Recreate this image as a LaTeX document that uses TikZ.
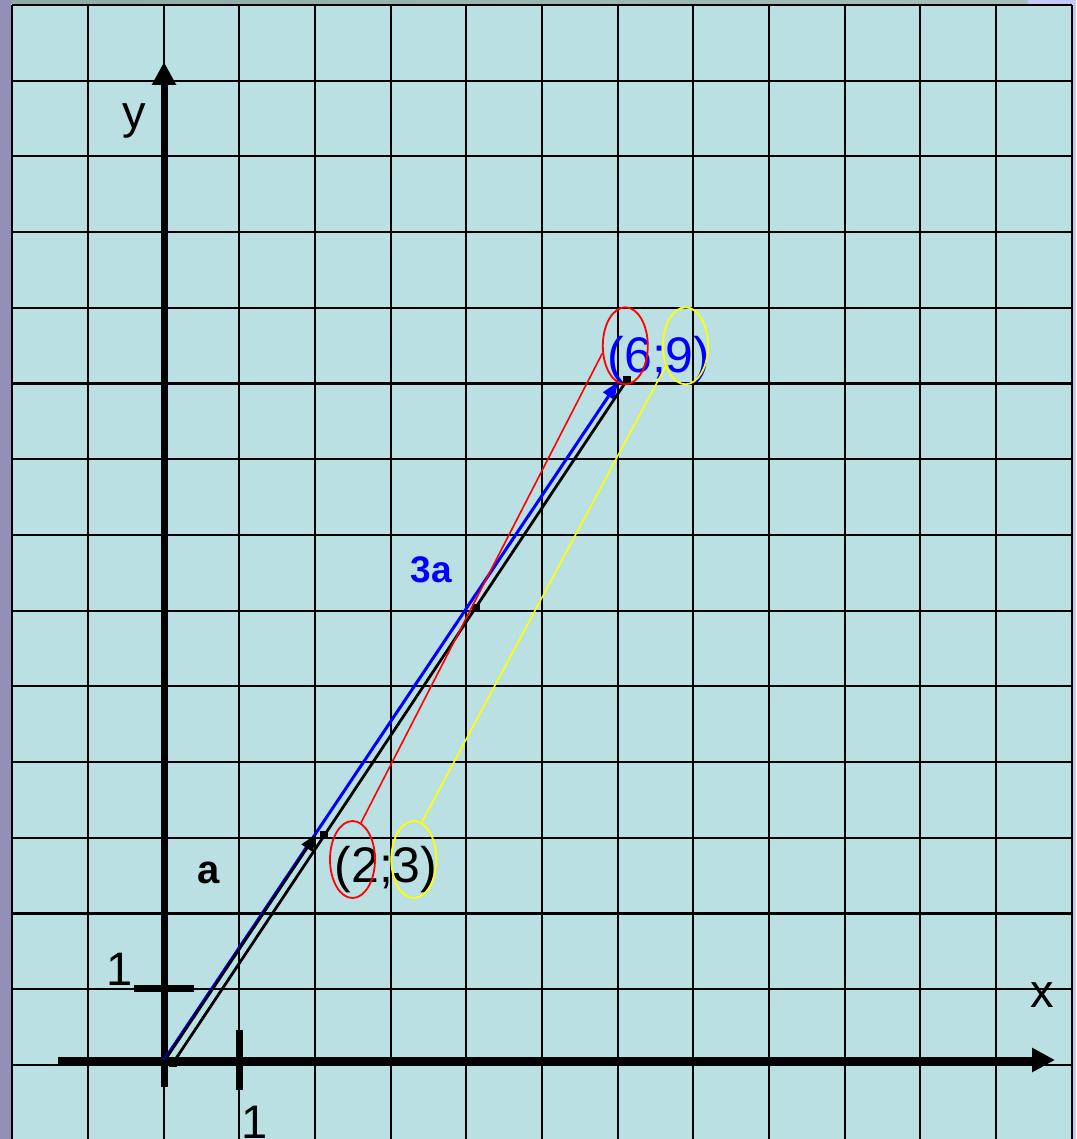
\documentclass[tikz,border=0pt]{standalone}
\usepackage{fontspec}
\setmainfont{Liberation Sans}
\usetikzlibrary{arrows.meta,shapes.geometric}
\definecolor{bg}{HTML}{BBE0E3}
\definecolor{leftc}{HTML}{9290B6}
\definecolor{topA}{HTML}{8EABA7}
\definecolor{topB}{HTML}{A6BFBD}
\definecolor{lav}{HTML}{C8C8F6}
\definecolor{pureblue}{HTML}{0000FF}
\definecolor{purered}{HTML}{FF0000}
\definecolor{pureyellow}{HTML}{FFFF00}
\begin{document}
\begin{tikzpicture}[x=1pt,y=-1pt,
  gridline/.style={line width=2.2pt,black},
  axisline/.style={line width=7pt,black,-{Triangle[length=23pt,width=23pt]}},
  tickline/.style={line width=7pt,black},
  lbl/.style={inner sep=0pt,anchor=base,font=\fontsize{47}{56}\selectfont},
  coord/.style={inner sep=0pt,anchor=base,font=\fontsize{50}{60}\selectfont},
  vlbl/.style={inner sep=0pt,anchor=base,font=\bfseries\fontsize{37}{44}\selectfont},
  ring/.style={ellipse,draw,line width=1.8pt,minimum width=45pt,minimum height=77pt,inner sep=0pt},
  conn/.style={line width=1.6pt},
  marker/.style={rectangle,fill=black,inner sep=0pt,minimum size=8pt}]
\useasboundingbox (0,0) rectangle (1076,1139);
% background
\fill[bg] (0,0) rectangle (1076,1139);
\fill[leftc] (0,0) rectangle (11,1139);
\fill[left color=topA,right color=topB] (11,0) rectangle (1028,4);
\fill[lav] (1028,0) rectangle (1076,4);
\fill[lav] (1073,0) rectangle (1076,1139);
% grid
\foreach \i in {0,...,14} \draw[gridline] ({12.3+75.67*\i},5) -- ({12.3+75.67*\i},1139);
\foreach \j in {0,...,14} \draw[gridline] (12.3,{5+75.7*\j}) -- (1072,{5+75.7*\j});
% axes
\coordinate (xs) at (58,1060);
\coordinate (xe) at (1055,1060);
\coordinate (ys) at (164,1087);
\coordinate (ye) at (164,62);
\draw[axisline] (xs) -- (xe);
\draw[axisline] (ys) -- (ye);
\draw[tickline] (134,988) -- (194,988);
\draw[tickline] (239,1030) -- (239,1090);
\node[lbl] (ylab) at (134.5,129) {y};
\node[lbl] (xlab) at (1042.5,1007) {x};
\node[lbl] (one1) at (120,985) {1};
\node[lbl] (one2) at (255,1138) {1};
% vectors
\coordinate (O) at (164,1060);
\coordinate (A) at (315.3,834);
\coordinate (B) at (618,382);
\draw[pureblue,line width=3pt,-{Triangle[length=17pt,width=13pt]}] (O) -- (B);
\draw[black,line width=2.5pt,-{Triangle[length=17pt,width=13pt]}] ([xshift=1.2pt]O) -- ([xshift=1.2pt]A);
\coordinate (P0) at (173,1063);
\coordinate (P1) at (324,835);
\coordinate (P2) at (476,608);
\coordinate (P3) at (627,380);
\draw[black,line width=2.8pt] (P0) -- (P3);
\node[marker] (m0) at (P0) {};
\node[marker] (m1) at (P1) {};
\node[marker] (m2) at (P2) {};
\node[marker] (m3) at (P3) {};
% labels
\node[vlbl,pureblue] (l3a) at (431,582) {3a};
\node[vlbl,black,font=\bfseries\fontsize{40}{48}\selectfont] (la) at (208.5,883) {a};
\node[coord,black] (c23) at (386,882) {(2;3)};
\node[coord,pureblue] (c69) at (659,372) {(6;9)};
% rings
\node[ring,purered] (r2) at (352.5,859.5) {};
\node[ring,pureyellow] (y3) at (413.8,859.5) {};
\node[ring,purered] (r6) at (625.3,345.8) {};
\node[ring,pureyellow] (y9) at (685.5,345.8) {};
\draw[conn,purered] (r2.77) -- (r6.198);
\draw[conn,pureyellow] (y3.78) -- (y9.226);
\end{tikzpicture}
\end{document}
